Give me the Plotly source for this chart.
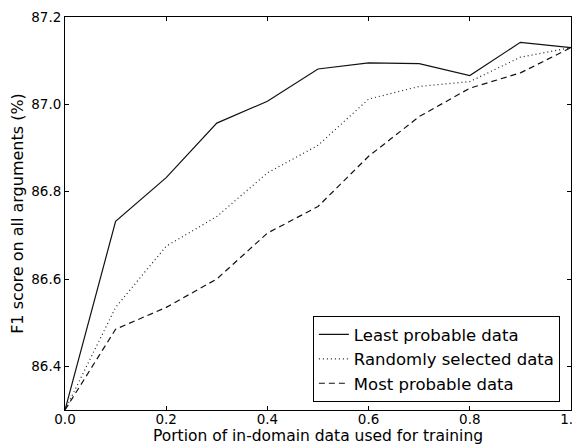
import plotly.graph_objects as go

portion = [0.0, 0.1, 0.2, 0.3, 0.4, 0.5, 0.6, 0.7, 0.8, 0.9, 1.0]
least_probable = [86.30, 86.732, 86.832, 86.957, 87.007, 87.081, 87.095, 87.093, 87.066, 87.142, 87.130]
randomly_selected = [86.30, 86.535, 86.675, 86.743, 86.843, 86.906, 87.012, 87.041, 87.052, 87.108, 87.130]
most_probable = [86.30, 86.485, 86.535, 86.600, 86.705, 86.766, 86.881, 86.972, 87.037, 87.072, 87.130]

x_ticks = [0.0, 0.2, 0.4, 0.6, 0.8, 1.0]
y_ticks = [86.4, 86.6, 86.8, 87.0, 87.2]

font = "DejaVu Sans"

fig = go.Figure()
fig.add_trace(go.Scatter(x=portion, y=least_probable, mode="lines", name="Least probable data",
                         line=dict(color="#111111", width=1.2, dash="solid")))
fig.add_trace(go.Scatter(x=portion, y=randomly_selected, mode="lines", name="Randomly selected data",
                         line=dict(color="#222222", width=1.2, dash="1px,3px")))
fig.add_trace(go.Scatter(x=portion, y=most_probable, mode="lines", name="Most probable data",
                         line=dict(color="#111111", width=1.2, dash="6px,4px")))

axis_common = dict(showgrid=False, zeroline=False, showline=True, linecolor="black", linewidth=1,
                   mirror="ticks", ticks="inside", ticklen=4, tickcolor="black", automargin=False,
                   ticklabeloverflow="allow",
                   tickfont=dict(family=font, size=13.5, color="black"))

fig.update_layout(
    width=572, height=437,
    margin=dict(l=57, r=9, t=9, b=35),
    paper_bgcolor="white", plot_bgcolor="white",
    font=dict(family=font, size=13.5, color="black"),
    xaxis=dict(range=[0, 1], tickvals=x_ticks, tickformat=".1f", ticklabelstandoff=-3,
               title=dict(text="Portion of in-domain data used for training", font=dict(size=15.5), standoff=1),
               **axis_common),
    yaxis=dict(range=[86.3, 87.2], tickvals=y_ticks, tickformat=".1f",
               title=dict(text="F1 score on all arguments (%)", font=dict(size=16), standoff=4),
               **axis_common),
    legend=dict(x=0.978, y=0.02, xanchor="right", yanchor="bottom",
                bordercolor="black", borderwidth=1, bgcolor="white",
                font=dict(family=font, size=16.5), tracegroupgap=0, itemwidth=30),
    showlegend=True,
)

fig.write_html("out.html")
